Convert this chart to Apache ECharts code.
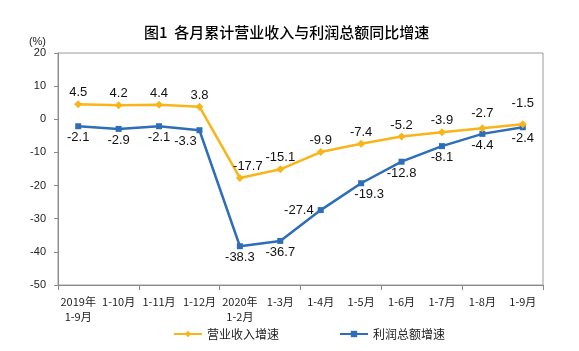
<!DOCTYPE html>
<html>
<head>
<meta charset="utf-8">
<script src="https://cdn.jsdelivr.net/npm/echarts@6/dist/echarts.min.js"></script>
<style>
  html, body { margin: 0; padding: 0; background: #fff; }
  #chartArea { width: 579px; height: 351px; }
</style>
</head>
<body>
<div id="chartArea"></div>
<script>
var categories = ['2019年\n1-9月', '1-10月', '1-11月', '1-12月', '2020年\n1-2月', '1-3月',
    '1-4月', '1-5月', '1-6月', '1-7月', '1-8月', '1-9月'];
var revenueGrowth = [4.5, 4.2, 4.4, 3.8, -17.7, -15.1, -9.9, -7.4, -5.2, -3.9, -2.7, -1.5];
var profitGrowth = [-2.1, -2.9, -2.1, -3.3, -38.3, -36.7, -27.4, -19.3, -12.8, -8.1, -4.4, -2.4];
var yTicks = { min: -50, max: 20, step: 10 };

var cnFont = '"Noto Sans CJK SC", sans-serif';
var numFont = '"Liberation Sans", Arial, sans-serif';
var yellow = '#F7B519';
var blue = '#2D6DB9';

// small nudges so labels sit where the original puts them
var revenueLabelNudge = { 4: [8, 0], 10: [0, -3], 11: [0, -9] };
var profitLabelNudge = { 3: [-14, 0], 6: 'left', 7: [8, 0] };

function withLabels(values, nudges, pos) {
    return values.map(function(v, i) {
        var n = nudges[i];
        if (!n) return v;
        if (typeof n === 'string') return { value: v, label: { position: n, distance: 4 } };
        return { value: v, label: { position: pos, offset: n } };
    });
}

var myChart = echarts.init(document.getElementById('chartArea'));
myChart.setOption({
    animation: false,
    title: {
        text: '图1  各月累计营业收入与利润总额同比增速',
        left: 139,
        top: 20,
        textStyle: { fontFamily: cnFont, fontSize: 15, fontWeight: 500, color: '#000' }
    },
    grid: {
        left: 58, right: 36, top: 53, bottom: 66,
        show: true, borderColor: '#9a9a9a', borderWidth: 1
    },
    legend: {
        left: 168,
        top: 323,
        itemWidth: 28,
        itemHeight: 8,
        itemGap: 60,
        textStyle: { fontFamily: cnFont, fontSize: 12, color: '#222' },
        data: ['营业收入增速', '利润总额增速']
    },
    xAxis: [{
        type: 'category',
        data: categories,
        boundaryGap: true,
        axisLine: { show: false },
        axisTick: { show: false },
        axisLabel: {
            interval: 0, margin: 9, lineHeight: 15,
            fontFamily: cnFont, fontSize: 11, color: '#222'
        }
    }, {
        type: 'category',
        data: categories,
        position: 'bottom',
        boundaryGap: true,
        axisLine: { show: true, onZero: true, lineStyle: { color: '#8a8a8a', width: 1 } },
        axisTick: { show: true, length: 5, lineStyle: { color: '#8a8a8a' } },
        axisLabel: { show: false }
    }],
    yAxis: {
        type: 'value',
        min: yTicks.min,
        max: yTicks.max,
        interval: yTicks.step,
        name: '(%)',
        nameLocation: 'end',
        nameGap: 4,
        nameTextStyle: { fontFamily: numFont, fontSize: 11, color: '#222', align: 'right', padding: [0, 12, 0, 0] },
        splitLine: { show: false },
        axisLine: { show: true, lineStyle: { color: '#8a8a8a' } },
        axisTick: { show: true, length: 4, lineStyle: { color: '#8a8a8a' } },
        axisLabel: { margin: 12, fontFamily: numFont, fontSize: 11, color: '#222' }
    },
    series: [{
        name: '营业收入增速',
        type: 'line',
        xAxisIndex: 0,
        data: withLabels(revenueGrowth, revenueLabelNudge, 'top'),
        symbol: 'diamond',
        symbolSize: 8,
        lineStyle: { color: yellow, width: 2.5 },
        itemStyle: { color: yellow },
        label: {
            show: true, position: 'top', distance: 1,
            fontFamily: numFont, fontSize: 13, color: '#111'
        },
        z: 3
    }, {
        name: '利润总额增速',
        type: 'line',
        xAxisIndex: 0,
        data: withLabels(profitGrowth, profitLabelNudge, 'bottom'),
        symbol: 'rect',
        symbolSize: 6,
        lineStyle: { color: blue, width: 2.5 },
        itemStyle: { color: blue },
        label: {
            show: true, position: 'bottom', distance: 2,
            fontFamily: numFont, fontSize: 13, color: '#111'
        },
        z: 2
    }]
});
</script>
</body>
</html>
